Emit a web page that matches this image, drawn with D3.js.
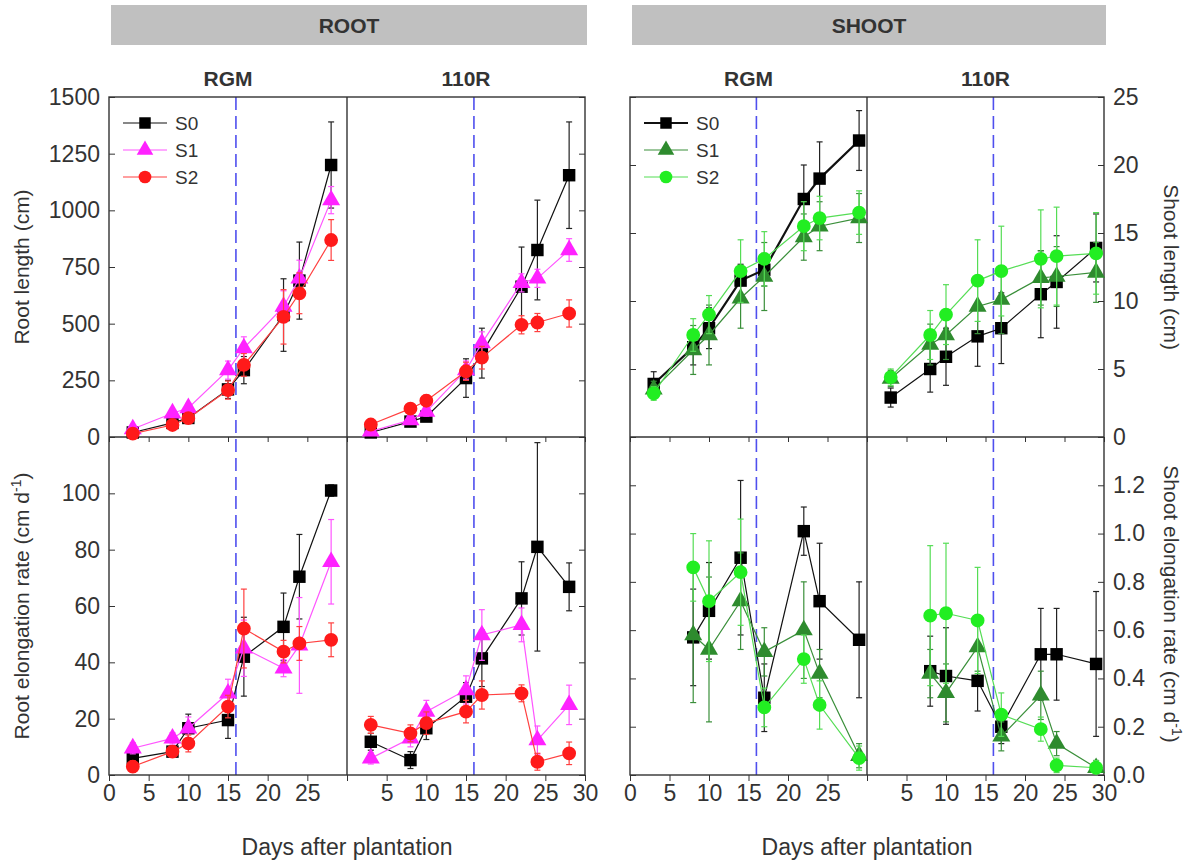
<!DOCTYPE html>
<meta charset="utf-8">
<script src="https://cdn.jsdelivr.net/npm/d3@7"></script>
<div id="viz"></div>
<style>
  body { margin: 0; background: #fff; }
  text { font-family: "Liberation Sans", Arial, sans-serif; fill: #333; }
  .axis path.domain { display: none; }
  .axis line { stroke: #333; }
</style>
<script>
// sampling days
const rootDays = [3, 8, 10, 15, 17, 22, 24, 28];
const shootDays = [3, 8, 10, 14, 17, 22, 24, 29];
const shootRateDays = [8, 10, 14, 17, 22, 24, 29];
const seriesNames = ["S0", "S1", "S2"];

// tick labels
const dayTicks = [0, 5, 10, 15, 20, 25, 30];
const rootLenTicks = [0, 250, 500, 750, 1000, 1250, 1500];
const rootRateTicks = [0, 20, 40, 60, 80, 100, 120];
const shootLenTicks = [0, 5, 10, 15, 20, 25];
const shootRateTicks = [0, 0.2, 0.4, 0.6, 0.8, 1.0, 1.2, 1.4];

// root length (cm), rows = S0, S1, S2
const rootLenRGM = [
  [20, 62, 84, 210, 295, 538, 690, 1200],
  [35, 105, 128, 295, 392, 575, 700, 1045],
  [15, 53, 83, 207, 318, 530, 634, 869]
];
const rootLenRGMErr = [
  [10, 15, 20, 40, 60, 160, 170, 190],
  [10, 15, 20, 40, 50, 70, 80, 60],
  [10, 15, 20, 40, 50, 120, 90, 90]
];
const rootLen110R = [
  [20, 68, 90, 260, 370, 663, 825, 1155],
  [25, 75, 112, 295, 414, 680, 700, 825],
  [55, 125, 160, 290, 350, 495, 505, 545]
];
const rootLen110RErr = [
  [10, 15, 20, 85, 110, 175, 220, 235],
  [10, 15, 20, 40, 50, 40, 40, 50],
  [15, 20, 25, 40, 50, 40, 40, 60]
];

// shoot length (cm)
const shootLenRGM = [
  [3.9, 6.6, 8.0, 11.5, 12.3, 17.5, 19.0, 21.8],
  [3.5, 6.4, 7.5, 10.2, 11.8, 14.7, 15.5, 16.1],
  [3.2, 7.5, 9.0, 12.2, 13.1, 15.5, 16.1, 16.5]
];
const shootLenRGMErr = [
  [0.9, 1.3, 1.5, 1.2, 1.2, 2.5, 2.7, 2.2],
  [0.6, 1.8, 2.2, 2.2, 2.5, 1.7, 1.8, 1.8],
  [0.5, 1.2, 1.4, 2.3, 2.0, 1.8, 1.6, 1.6]
];
const shootLen110R = [
  [2.9, 5.0, 5.9, 7.4, 8.0, 10.5, 11.4, 13.9],
  [4.3, 6.8, 7.5, 9.6, 10.1, 11.7, 11.8, 12.1],
  [4.4, 7.5, 9.0, 11.5, 12.2, 13.1, 13.3, 13.5]
];
const shootLen110RErr = [
  [0.7, 1.7, 2.1, 2.2, 2.6, 3.2, 3.4, 2.5],
  [0.6, 1.5, 1.8, 2.0, 2.5, 2.0, 2.2, 2.2],
  [0.6, 1.8, 2.2, 3.0, 3.3, 3.6, 3.6, 3.0]
];

// root elongation rate (cm d-1)
const rootRateRGM = [
  [5.9, 8.3, 16.6, 19.5, 42, 52.6, 70.4, 101],
  [9.5, 13, 16.6, 29, 45, 37.9, 46, 75.7],
  [3, 8.3, 11.2, 24.3, 52, 43.8, 46.7, 48]
];
const rootRateRGMErr = [
  [2, 2, 5, 6.5, 14, 12, 15, 2],
  [2, 2, 4, 5, 10, 3, 17, 15],
  [2, 2, 3, 4, 14, 4, 6, 6]
];
const rootRate110R = [
  [11.8, 5.3, 16.6, 27.8, 41.4, 62.7, 81, 66.8],
  [5.9, 13, 22.5, 30.2, 49.7, 53.3, 12.4, 24.9],
  [17.8, 14.8, 18.4, 22.5, 28.4, 29, 4.7, 7.7]
];
const rootRate110RErr = [
  [3, 3, 4, 5, 10, 13, 37, 8.5],
  [2, 3, 4, 5, 9, 6, 5, 7],
  [3, 3, 4, 4, 5, 3, 3, 4]
];

// shoot elongation rate (cm d-1)
const shootRateRGM = [
  [0.57, 0.68, 0.90, 0.32, 1.01, 0.72, 0.56],
  [0.58, 0.52, 0.72, 0.51, 0.60, 0.42, 0.08],
  [0.86, 0.72, 0.84, 0.28, 0.48, 0.29, 0.07]
];
const shootRateRGMErr = [
  [0.2, 0.2, 0.32, 0.14, 0.1, 0.24, 0.24],
  [0.28, 0.3, 0.2, 0.1, 0.2, 0.1, 0.05],
  [0.14, 0.25, 0.22, 0.08, 0.1, 0.1, 0.05]
];
const shootRate110R = [
  [0.43, 0.41, 0.39, 0.20, 0.50, 0.50, 0.46],
  [0.42, 0.34, 0.53, 0.16, 0.33, 0.13, 0.03],
  [0.66, 0.67, 0.64, 0.25, 0.19, 0.04, 0.03]
];
const shootRate110RErr = [
  [0.145, 0.2, 0.125, 0.07, 0.19, 0.19, 0.3],
  [0.1, 0.12, 0.1, 0.06, 0.1, 0.05, 0.03],
  [0.29, 0.29, 0.22, 0.09, 0.05, 0.03, 0.03]
];

const transferDay = 16;

// layout
const W = 1190, H = 865;
const yTop = 97, yMid = 437, yBot = 775;

const svg = d3.select("#viz").append("svg")
    .attr("width", W)
    .attr("height", H);

const groups = [
  {x0: 109, x1: 347, x2: 585, title: "ROOT",
   colors: ["#000", "#ff22ff", "#ff1a1a"], lineColors: ["#222", "#ff55ff", "#ff4040"]},
  {x0: 630, x1: 867, x2: 1104, title: "SHOOT",
   colors: ["#000", "#2e8b2e", "#22ee22"], lineColors: ["#222", "#3a8f3a", "#55dd55"]}
];

const rootLenY = d3.scaleLinear().domain([0, 1500]).range([yMid, yTop]);
const rootRateY = d3.scaleLinear().domain([0, 120]).range([yBot, yMid]);
const shootLenY = d3.scaleLinear().domain([0, 25]).range([yMid, yTop]);
const shootRateY = d3.scaleLinear().domain([0, 1.4]).range([yBot, yMid]);

const panels = [
  {g: 0, col: 0, y: rootLenY, days: rootDays, vals: rootLenRGM, errs: rootLenRGMErr, legend: true, w0: 1.2},
  {g: 0, col: 1, y: rootLenY, days: rootDays, vals: rootLen110R, errs: rootLen110RErr, w0: 1.2},
  {g: 0, col: 0, y: rootRateY, days: rootDays, vals: rootRateRGM, errs: rootRateRGMErr, w0: 1.2},
  {g: 0, col: 1, y: rootRateY, days: rootDays, vals: rootRate110R, errs: rootRate110RErr, w0: 1.2},
  {g: 1, col: 0, y: shootLenY, days: shootDays, vals: shootLenRGM, errs: shootLenRGMErr, legend: true, w0: 2.2},
  {g: 1, col: 1, y: shootLenY, days: shootDays, vals: shootLen110R, errs: shootLen110RErr, w0: 1.2},
  {g: 1, col: 0, y: shootRateY, days: shootRateDays, vals: shootRateRGM, errs: shootRateRGMErr, w0: 1.2},
  {g: 1, col: 1, y: shootRateY, days: shootRateDays, vals: shootRate110R, errs: shootRate110RErr, w0: 1.2}
];

const symbols = [d3.symbolSquare, d3.symbolTriangle, d3.symbolCircle];
const symSizes = [155, 140, 150];

function xScale(g, col) {
  const gr = groups[g];
  return col === 0
    ? d3.scaleLinear().domain([0, 30]).range([gr.x0, gr.x1])
    : d3.scaleLinear().domain([0, 30]).range([gr.x1, gr.x2]);
}

// title bars and column titles
groups.forEach(gr => {
  svg.append("rect")
    .attr("x", gr.x0 + 2).attr("y", 5)
    .attr("width", gr.x2 - gr.x0).attr("height", 40)
    .attr("fill", "#c0c0c0");
  svg.append("text")
    .attr("x", (gr.x0 + gr.x2) / 2 + 2).attr("y", 33)
    .attr("text-anchor", "middle")
    .style("font-size", "21px").style("font-weight", "bold")
    .text(gr.title);
  [["RGM", gr.x0, gr.x1], ["110R", gr.x1, gr.x2]].forEach(([t, a, b]) => {
    svg.append("text")
      .attr("x", (a + b) / 2).attr("y", 86)
      .attr("text-anchor", "middle")
      .style("font-size", "21px").style("font-weight", "bold")
      .text(t);
  });
});

// axes
function noLabel() { return ""; }

groups.forEach((gr, gi) => {
  const yTopS = gi === 0 ? rootLenY : shootLenY;
  const yBotS = gi === 0 ? rootRateY : shootRateY;
  const tTop = gi === 0 ? rootLenTicks : shootLenTicks;
  const tBot = gi === 0 ? rootRateTicks : shootRateTicks;
  const fmtTop = d => d;
  const fmtBot = d => (d === tBot[tBot.length - 1] ? "" : (gi === 0 ? d : d3.format(".1f")(d)));

  // left edge
  const leftTop = d3.axisLeft(yTopS).tickValues(tTop).tickSize(-6).tickPadding(9)
    .tickFormat(gi === 0 ? fmtTop : noLabel);
  const leftBot = d3.axisLeft(yBotS).tickValues(tBot).tickSize(-6).tickPadding(9)
    .tickFormat(gi === 0 ? fmtBot : noLabel);
  // right edge
  const rightTop = d3.axisRight(yTopS).tickValues(tTop).tickSize(-6).tickPadding(9)
    .tickFormat(gi === 1 ? fmtTop : noLabel);
  const rightBot = d3.axisRight(yBotS).tickValues(tBot).tickSize(-6).tickPadding(9)
    .tickFormat(gi === 1 ? fmtBot : noLabel);

  [[leftTop, gr.x0], [leftBot, gr.x0], [rightTop, gr.x2], [rightBot, gr.x2]].forEach(([ax, x]) => {
    svg.append("g")
      .attr("class", "axis")
      .attr("transform", `translate(${x},0)`)
      .call(ax)
      .selectAll("text").style("font-size", "23px").attr("fill", "#333");
  });

  [0, 1].forEach(col => {
    const x = xScale(gi, col);
    svg.append("g")
      .attr("class", "axis")
      .attr("transform", `translate(0,${yBot})`)
      .call(d3.axisBottom(x).tickValues(dayTicks).tickSize(6).tickPadding(4)
        .tickFormat(d => (col === 0 && d === 30) || (col === 1 && d === 0) ? "" : d))
      .selectAll("text").style("font-size", "23px").attr("fill", "#333");
    svg.append("g")
      .attr("class", "axis")
      .attr("transform", `translate(0,${yMid})`)
      .call(d3.axisBottom(x).tickValues(dayTicks).tickSize(5).tickFormat(noLabel));
    // transfer line
    svg.append("line")
      .attr("x1", x(transferDay)).attr("x2", x(transferDay))
      .attr("y1", yTop).attr("y2", yBot)
      .attr("stroke", "#4f4fee").attr("stroke-width", 1.6)
      .attr("stroke-dasharray", "13,6");
  });

  // frame
  svg.append("rect")
    .attr("x", gr.x0).attr("y", yTop)
    .attr("width", gr.x2 - gr.x0).attr("height", yBot - yTop)
    .attr("fill", "none").attr("stroke", "#333").attr("stroke-width", 1.4);
  svg.append("line")
    .attr("x1", gr.x0).attr("x2", gr.x2).attr("y1", yMid).attr("y2", yMid)
    .attr("stroke", "#333").attr("stroke-width", 1.4);
  svg.append("line")
    .attr("x1", gr.x1).attr("x2", gr.x1).attr("y1", yTop).attr("y2", yBot)
    .attr("stroke", "#333").attr("stroke-width", 1.4);

  // x axis title
  svg.append("text")
    .attr("x", (gr.x0 + gr.x2) / 2).attr("y", 855)
    .attr("text-anchor", "middle")
    .style("font-size", "23px")
    .text("Days after plantation");
});

// series
panels.forEach(p => {
  const gr = groups[p.g];
  const x = xScale(p.g, p.col);
  const y = p.y;
  const pg = svg.append("g");
  p.vals.forEach((vals, si) => {
    const pts = p.days.map((d, i) => ({d, v: vals[i], e: p.errs[si][i]}));
    const col = gr.colors[si];
    // error bars
    const eb = pg.append("g").attr("stroke", gr.lineColors[si]).attr("stroke-width", 1.2);
    eb.selectAll(".ev").data(pts).enter().append("line")
      .attr("x1", d => x(d.d)).attr("x2", d => x(d.d))
      .attr("y1", d => y(Math.max(0, d.v - d.e))).attr("y2", d => y(d.v + d.e));
    eb.selectAll(".ct").data(pts).enter().append("line")
      .attr("x1", d => x(d.d) - 3).attr("x2", d => x(d.d) + 3)
      .attr("y1", d => y(d.v + d.e)).attr("y2", d => y(d.v + d.e));
    eb.selectAll(".cb").data(pts.filter(d => d.v - d.e > 0)).enter().append("line")
      .attr("x1", d => x(d.d) - 3).attr("x2", d => x(d.d) + 3)
      .attr("y1", d => y(d.v - d.e)).attr("y2", d => y(d.v - d.e));
    // line
    pg.append("path")
      .datum(pts)
      .attr("fill", "none")
      .attr("stroke", si === 0 ? "#111" : gr.lineColors[si])
      .attr("stroke-width", si === 0 ? p.w0 : 1.2)
      .attr("d", d3.line().x(d => x(d.d)).y(d => y(d.v)));
    // markers
    pg.selectAll(".m" + si).data(pts).enter().append("path")
      .attr("transform", d => `translate(${x(d.d)},${y(d.v)})`)
      .attr("d", d3.symbol().type(symbols[si]).size(symSizes[si]))
      .attr("fill", col);
  });

  if (p.legend) {
    const lx = gr.x0 + 14, ly = yTop + 26;
    seriesNames.forEach((name, si) => {
      const yy = ly + si * 27;
      svg.append("line")
        .attr("x1", lx).attr("x2", lx + 44).attr("y1", yy).attr("y2", yy)
        .attr("stroke", si === 0 ? "#111" : gr.lineColors[si])
        .attr("stroke-width", si === 0 ? p.w0 : 1.2);
      svg.append("path")
        .attr("transform", `translate(${lx + 22},${yy})`)
        .attr("d", d3.symbol().type(symbols[si]).size(symSizes[si] * 0.85))
        .attr("fill", gr.colors[si]);
      svg.append("text")
        .attr("x", lx + 52).attr("y", yy + 7)
        .style("font-size", "19px")
        .text(name);
    });
  }
});

// y axis titles
function yTitle(x, y, rot, main) {
  const t = svg.append("text")
    .attr("transform", `translate(${x},${y}) rotate(${rot})`)
    .attr("text-anchor", "middle")
    .style("font-size", "21px");
  t.append("tspan").text(main);
  return t;
}
yTitle(29, 267, -90, "Root length (cm)");
const rr = yTitle(29, 606, -90, "Root elongation rate (cm d");
rr.append("tspan").attr("baseline-shift", "super").style("font-size", "14px").text("-1");
rr.append("tspan").text(")");
yTitle(1164, 267, 90, "Shoot length (cm)");
const sr = yTitle(1164, 604, 90, "Shoot elongation rate (cm d");
sr.append("tspan").attr("baseline-shift", "super").style("font-size", "14px").text("-1");
sr.append("tspan").text(")");
</script>
